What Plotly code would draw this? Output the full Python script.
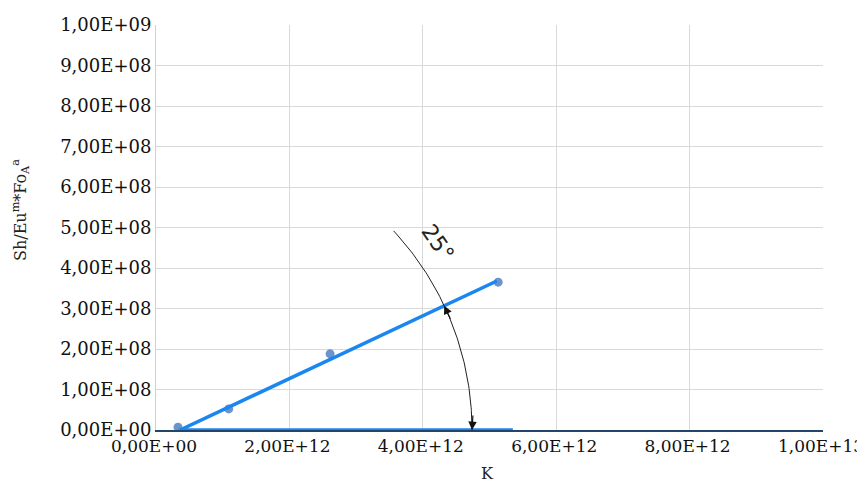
import numpy as np
import plotly.graph_objects as go

# ---- data ----
k_values = [0.33e12, 1.09e12, 2.61e12, 5.13e12]
sh_values = [0.07e8, 0.52e8, 1.88e8, 3.65e8]

trend_x = [0.36e12, 5.11e12]
trend_y = [0.0, 3.68e8]

base_x = [0.33e12, 5.35e12]
base_y = [0.0, 0.0]

x_tickvals = [0, 2e12, 4e12, 6e12, 8e12, 1e13]
x_ticktext = ["0,00E+00", "2,00E+12", "4,00E+12", "6,00E+12", "8,00E+12", "1,00E+13"]
y_tickvals = [i * 1e8 for i in range(11)]
y_ticktext = ["0,00E+00", "1,00E+08", "2,00E+08", "3,00E+08", "4,00E+08", "5,00E+08",
              "6,00E+08", "7,00E+08", "8,00E+08", "9,00E+08", "1,00E+09"]

angle_label = "25°"
x_title = "K"
y_title = "Sh/Eu<sup>m</sup>*Fo<sub>A</sub><sup>a</sup>"

# ---- layout geometry (page has 8px body margin) ----
W, H = 857, 474
ML, MR, MT, MB = 148, 42, 17, 52
PW = W - ML - MR
PH = H - MT - MB
XR = [0, 1e13]
YR = [0, 1e9]
px_x = PW / (XR[1] - XR[0])
px_y = PH / (YR[1] - YR[0])

fig = go.Figure()

# baseline highlight
fig.add_trace(go.Scatter(x=base_x, y=base_y, mode="lines",
                         line=dict(color="#1a86f0", width=3.5),
                         hoverinfo="skip", showlegend=False, cliponaxis=False))

# data points
fig.add_trace(go.Scatter(x=k_values, y=sh_values, mode="markers",
                         marker=dict(color="#5b88c8", size=9, opacity=0.9),
                         showlegend=False))

# trend line
fig.add_trace(go.Scatter(x=trend_x, y=trend_y, mode="lines",
                         line=dict(color="#1a86f0", width=3.5),
                         showlegend=False))

# angle arc (centered at trend start, in pixel space)
r_px = 292
t = np.radians(np.linspace(0, 43, 80))
arc_x = trend_x[0] + r_px * np.cos(t) / px_x
arc_y = trend_y[0] + r_px * np.sin(t) / px_y
fig.add_trace(go.Scatter(x=arc_x, y=arc_y, mode="lines",
                         line=dict(color="#222222", width=1),
                         hoverinfo="skip", showlegend=False, cliponaxis=False))

# arrowheads
slope_deg = np.degrees(np.arctan(((trend_y[1] - trend_y[0]) * px_y) /
                                 ((trend_x[1] - trend_x[0]) * px_x)))
L = 16
ta = np.radians(slope_deg)
head1_x = trend_x[0] + r_px * np.cos(ta) / px_x
head1_y = trend_y[0] + r_px * np.sin(ta) / px_y
fig.add_annotation(x=head1_x, y=head1_y, ax=L * np.sin(ta), ay=L * np.cos(ta),
                   text="", showarrow=True, arrowhead=2, arrowsize=1.4,
                   arrowwidth=1.2, arrowcolor="#111111")
head2_x = trend_x[0] + r_px / px_x
fig.add_annotation(x=head2_x, y=0, ax=1, ay=-L,
                   text="", showarrow=True, arrowhead=2, arrowsize=1.4,
                   arrowwidth=1.2, arrowcolor="#111111")

# angle label (placed 282px right of the y axis, 188px above the x axis)
fig.add_annotation(x=282 / px_x, y=188 / px_y,
                   text=angle_label, showarrow=False, textangle=55,
                   font=dict(family="DejaVu Sans", size=22, color="#222222"))

# axis titles
fig.add_annotation(xref="paper", yref="paper", x=(12 - ML) / PW, y=(H - MB - 202) / PH,
                   text=y_title, showarrow=False, textangle=-90,
                   xanchor="center", yanchor="middle",
                   font=dict(family="DejaVu Serif", size=16, color="#222222"))
fig.add_annotation(xref="paper", yref="paper", x=(479 - ML) / PW, y=(H - MB - 465) / PH,
                   text=x_title, showarrow=False,
                   xanchor="center", yanchor="middle",
                   font=dict(family="DejaVu Serif", size=16, color="#222222"))

fig.update_layout(
    width=W, height=H,
    margin=dict(l=ML, r=MR, t=MT, b=MB),
    plot_bgcolor="white", paper_bgcolor="white",
    xaxis=dict(range=XR, tickvals=x_tickvals, ticktext=x_ticktext,
               showgrid=True, gridcolor="#d9d9d9", gridwidth=1,
               showline=True, linecolor="#23456b", linewidth=2,
               zeroline=False, automargin=False,
               tickfont=dict(family="DejaVu Serif", size=17, color="#111111"),
               ticklabeloverflow="allow", ticklabelshift=-2),
    yaxis=dict(range=YR, tickvals=y_tickvals, ticktext=y_ticktext,
               showgrid=True, gridcolor="#d9d9d9", gridwidth=1,
               showline=True, linecolor="#d0d0d0", linewidth=1,
               zeroline=False, automargin=False,
               tickfont=dict(family="DejaVu Serif", size=18, color="#111111"),
               ticklabeloverflow="allow"),
)

fig.write_html("out.html")
